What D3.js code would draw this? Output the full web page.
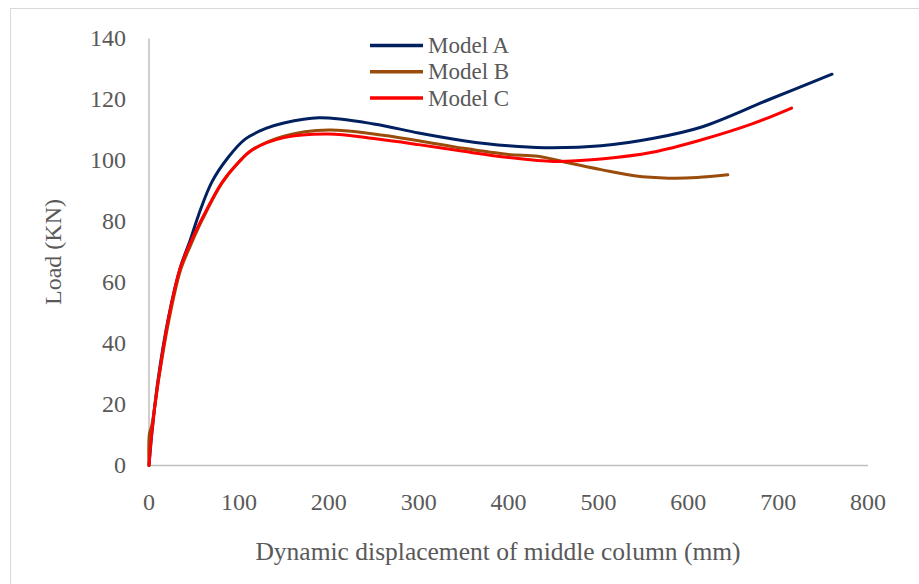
<!DOCTYPE html>
<html>
<head>
<meta charset="utf-8">
<script src="https://cdn.jsdelivr.net/npm/d3@7"></script>
<style>
  body { margin: 0; background: #fff; }
  svg { display: block; font-family: "Liberation Serif", "Times New Roman", serif; }
</style>
</head>
<body>
<svg width="919" height="584"></svg>
<script>
// data (displacement mm, load KN)
var seriesNames = [ "Model A", "Model B", "Model C" ];
var seriesColors = [ "#002060", "#9a4c0b", "#ff0000" ];

var modelA_x = [ 0, 3, 10, 22, 35, 46, 55, 70, 88, 107, 130, 150, 189, 250, 300, 350, 400, 440, 503, 560, 615, 690, 760 ];
var modelA_y = [ 0, 10, 28, 49, 65, 74, 82, 93, 101, 107, 110.5, 112.3, 114, 112, 109, 106.5, 104.8, 104.2, 104.8, 107.2, 111, 120, 128.3 ];

var modelB_x = [ 0, 0.5, 3, 10, 22, 35, 46, 60, 81, 100, 115, 150, 200, 250, 300, 350, 400, 433, 470, 503, 540, 578, 610, 644 ];
var modelB_y = [ 0, 10.5, 13, 27, 47.5, 64, 72, 81, 92.5, 99.5, 103.5, 108, 110, 108.7, 106.5, 104, 102, 101.4, 99, 97, 95, 94.2, 94.4, 95.3 ];

var modelC_x = [ 0, 3, 10, 22, 35, 46, 60, 81, 100, 115, 150, 200, 250, 300, 350, 400, 450, 503, 560, 615, 671, 715 ];
var modelC_y = [ 0, 10.5, 27, 48.6, 65, 73, 81.5, 92.7, 99.5, 103.5, 107.5, 108.7, 107.2, 105.2, 103, 101, 99.7, 100.5, 102.7, 106.8, 112, 117.2 ];

var xTicks = [ 0, 100, 200, 300, 400, 500, 600, 700, 800 ];
var yTicks = [ 0, 20, 40, 60, 80, 100, 120, 140 ];

var svg = d3.select( "svg" );
var textColor = "#595959";

// outer chart frame
svg.append( "rect" )
  .attr( "x", 10.5 ).attr( "y", 8.5 )
  .attr( "width", 1000 ).attr( "height", 1000 )
  .attr( "fill", "none" )
  .attr( "stroke", "#d9d9d9" );

var x = d3.scaleLinear().domain( [ 0, 800 ] ).range( [ 149, 868 ] ),
  y = d3.scaleLinear().domain( [ 0, 140 ] ).range( [ 465.5, 38.5 ] );

// axis lines
svg.append( "line" )
  .attr( "x1", x( 0 ) ).attr( "x2", x( 800 ) )
  .attr( "y1", y( 0 ) ).attr( "y2", y( 0 ) )
  .attr( "stroke", "#bfbfbf" ).attr( "stroke-width", 1.5 );
svg.append( "line" )
  .attr( "x1", x( 0 ) ).attr( "x2", x( 0 ) )
  .attr( "y1", y( 0 ) ).attr( "y2", y( 140 ) )
  .attr( "stroke", "#bfbfbf" ).attr( "stroke-width", 1.5 );

// tick labels
svg.append( "g" ).selectAll( "text" )
  .data( xTicks )
  .enter().append( "text" )
  .attr( "x", function ( d ) { return x( d ); } )
  .attr( "y", 510 )
  .attr( "text-anchor", "middle" )
  .attr( "fill", textColor )
  .style( "font-size", "24px" )
  .text( function ( d ) { return d; } );

svg.append( "g" ).selectAll( "text" )
  .data( yTicks )
  .enter().append( "text" )
  .attr( "x", 126 )
  .attr( "y", function ( d ) { return y( d ); } )
  .attr( "dy", "0.33em" )
  .attr( "text-anchor", "end" )
  .attr( "fill", textColor )
  .style( "font-size", "24px" )
  .text( function ( d ) { return d; } );

// axis titles
svg.append( "text" )
  .attr( "x", 498 ).attr( "y", 560 )
  .attr( "text-anchor", "middle" )
  .attr( "fill", textColor )
  .style( "font-size", "25.5px" )
  .text( "Dynamic displacement of middle column (mm)" );

svg.append( "text" )
  .attr( "transform", "translate(61,252) rotate(-90)" )
  .attr( "text-anchor", "middle" )
  .attr( "fill", textColor )
  .style( "font-size", "24px" )
  .text( "Load (KN)" );

// series lines
var series = [
  { xs: modelA_x, ys: modelA_y },
  { xs: modelB_x, ys: modelB_y },
  { xs: modelC_x, ys: modelC_y }
];

var line = d3.line()
  .x( function ( d ) { return x( d[ 0 ] ); } )
  .y( function ( d ) { return y( d[ 1 ] ); } )
  .curve( d3.curveCatmullRom.alpha( 0.5 ) );

// draw A first, then B, then C on top
series.forEach( function ( s, i ) {
  var pts = s.xs.map( function ( v, j ) { return [ v, s.ys[ j ] ]; } );
  svg.append( "path" )
    .datum( pts )
    .attr( "d", line )
    .attr( "fill", "none" )
    .attr( "stroke", seriesColors[ i ] )
    .attr( "stroke-width", 3 )
    .attr( "stroke-linecap", "round" )
    .attr( "stroke-linejoin", "round" );
} );

// legend
var legend = svg.append( "g" ).selectAll( "g" )
  .data( seriesNames )
  .enter().append( "g" )
  .attr( "transform", function ( d, i ) { return "translate(370," + ( 45.5 + i * 26.3 ) + ")"; } );

legend.append( "line" )
  .attr( "x1", 0 ).attr( "x2", 53 )
  .attr( "stroke", function ( d, i ) { return seriesColors[ i ]; } )
  .attr( "stroke-width", 3.5 );

legend.append( "text" )
  .attr( "x", 58 )
  .attr( "dy", "0.33em" )
  .attr( "fill", textColor )
  .style( "font-size", "23px" )
  .text( function ( d ) { return d; } );
</script>
</body>
</html>
